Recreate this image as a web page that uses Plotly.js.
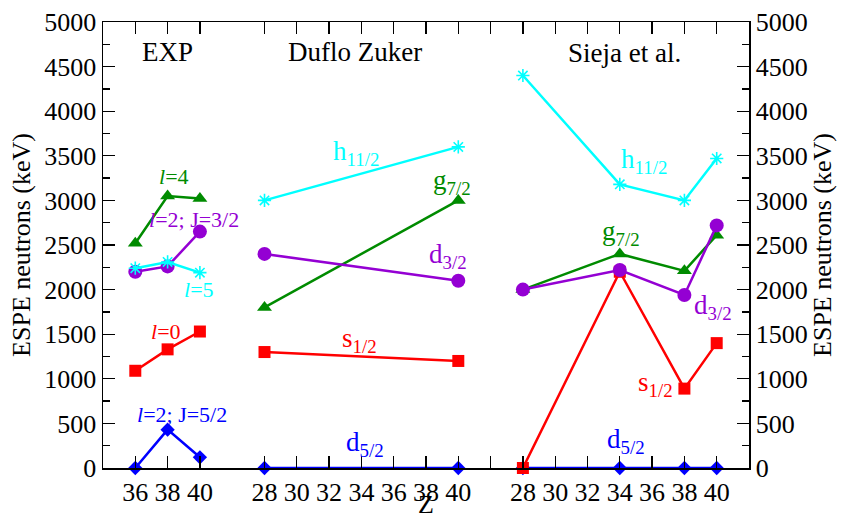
<!DOCTYPE html>
<html>
<head>
<meta charset="utf-8">
<script src="https://cdn.plot.ly/plotly-3.0.1.min.js"></script>
<style>html,body{margin:0;padding:0;background:#fff;}#chart{width:842px;height:519px;}</style>
</head>
<body>
<div id="chart"></div>
<script>
// ---------- data ----------
const panels = ["EXP", "Duflo Zuker", "Sieja et al."];

// EXP (Z values)
const expZ = [36, 38, 40];
const expL4 = [2520, 3050, 3020];        // l=4
const expL2J32 = [2200, 2260, 2650];     // l=2; J=3/2
const expL5 = [2240, 2310, 2190];        // l=5
const expL0 = [1090, 1330, 1530];        // l=0
const expL2J52 = [0, 430, 120];          // l=2; J=5/2

// Duflo Zuker
const dzZ = [28, 40];
const dzH112 = [3000, 3600];
const dzG72 = [1800, 3000];
const dzD32 = [2400, 2100];
const dzS12 = [1300, 1200];
const dzD52 = [0, 0];

// Sieja et al.
const sjZ = [28, 34, 38, 40];
const sjH112 = [4400, 3180, 3000, 3470];
const sjG72 = [2000, 2400, 2210, 2610];
const sjD32 = [2000, 2220, 1940, 2720];
const sjS12 = [0, 2200, 890, 1400];
const sjD52 = [0, 0, 0, 0];

// tick labels per panel (Z)
const expTicks = [36, 38, 40];
const dzTicks = [28, 30, 32, 34, 36, 38, 40, 42];
const sjTicks = [28, 30, 32, 34, 36, 38, 40];
const dzHiddenTick = 42;

// ---------- panel placement on one shared x axis ----------
const offset = {exp: -34, dz: -18, sj: -2};
const pos = (zs, o) => zs.map(z => z + o);

const C = {
  red: "rgb(255,0,0)", green: "rgb(0,139,0)", blue: "rgb(0,0,255)",
  cyan: "rgb(0,255,255)", violet: "rgb(148,0,211)"
};
const LW = 2.5;
function tr(x, y, color, symbol, size, yax) {
  const open = symbol.indexOf("asterisk") === 0;
  return {
    x: x, y: y, type: "scatter", mode: "lines+markers", yaxis: yax,
    line: {color: color, width: LW},
    marker: {symbol: symbol, size: size, color: color,
             line: {color: color, width: open ? 1.6 : 0}},
    hoverinfo: "skip", showlegend: false, cliponaxis: false
  };
}

const traces = [];
// order: blue, red, green, violet, cyan ; Sieja panel on the right-hand axis
const groups = [
  {o: offset.exp, ya: "y", z: expZ, d52: expL2J52, s12: expL0, g72: expL4, d32: expL2J32, h112: expL5},
  {o: offset.dz, ya: "y", z: dzZ, d52: dzD52, s12: dzS12, g72: dzG72, d32: dzD32, h112: dzH112},
  {o: offset.sj, ya: "y2", z: sjZ, d52: sjD52, s12: sjS12, g72: sjG72, d32: sjD32, h112: sjH112}
];
groups.forEach(g => traces.push(tr(pos(g.z, g.o), g.d52, C.blue, "diamond", 11, g.ya)));
groups.forEach(g => traces.push(tr(pos(g.z, g.o), g.s12, C.red, "square", 12, g.ya)));
groups.forEach(g => traces.push(tr(pos(g.z, g.o), g.g72, C.green, "triangle-up", 13, g.ya)));
groups.forEach(g => traces.push(tr(pos(g.z, g.o), g.d32, C.violet, "circle", 14, g.ya)));
groups.forEach(g => traces.push(tr(pos(g.z, g.o), g.h112, C.cyan, "asterisk-open", 11, g.ya)));

// ticks
const tickvals = [].concat(pos(expTicks, offset.exp), pos(dzTicks, offset.dz), pos(sjTicks, offset.sj));
const ticktext = [].concat(expTicks.map(String), dzTicks.map(z => z === dzHiddenTick ? "" : String(z)), sjTicks.map(String));

const FONT = "'Liberation Serif', 'Times New Roman', Times, serif";
function ann(x, y, text, color, size) {
  return {x: x, y: y, xref: "x", yref: "y", text: text, showarrow: false,
          font: {family: FONT, size: size || 27, color: color || "#000"},
          xanchor: "center", yanchor: "middle"};
}

const annotations = [
  ann(4.0, 4664, panels[0], "#000", 27),
  ann(15.6, 4664, panels[1], "#000", 27),
  ann(32.3, 4650, panels[2], "#000", 27),
  ann(4.4, 3264, "<i>l</i>=4", C.green, 22),
  ann(5.63, 2783, "<i>l</i>=2; J=3/2", C.violet, 22),
  ann(5.94, 1999, "<i>l</i>=5", C.cyan, 22),
  ann(3.9, 1528, "<i>l</i>=0", C.red, 22),
  ann(4.89, 599, "<i>l</i>=2; J=5/2", C.blue, 22),
  ann(15.67, 3531, "h<sub>11/2</sub>", C.cyan),
  ann(21.6, 3208, "g<sub>7/2</sub>", C.green),
  ann(21.36, 2380, "d<sub>3/2</sub>", C.violet),
  ann(15.9, 1439, "s<sub>1/2</sub>", C.red),
  ann(16.2, 274, "d<sub>5/2</sub>", C.blue),
  ann(33.5, 3443, "h<sub>11/2</sub>", C.cyan),
  ann(32.07, 2637, "g<sub>7/2</sub>", C.green),
  ann(37.8, 1808, "d<sub>3/2</sub>", C.violet),
  ann(34.2, 946, "s<sub>1/2</sub>", C.red),
  ann(32.4, 308, "d<sub>5/2</sub>", C.blue)
];

function yAxis(side, extra) {
  return Object.assign({
    side: side,
    range: [0, 5000], dtick: 500, tick0: 0, ticks: "inside", ticklen: 12, tickwidth: 1.3,
    tickcolor: "#000", showline: true, linecolor: "#000", linewidth: 1.5,
    showgrid: false, zeroline: false, fixedrange: true, automargin: false,
    tickfont: {family: FONT, size: 26, color: "#000"},
    minor: {ticks: "inside", ticklen: 7, dtick: 250, tickcolor: "#000", tickwidth: 1.3, showgrid: false},
    title: {text: "ESPE neutrons (keV)", font: {family: FONT, size: 26, color: "#000"}, standoff: 6}
  }, extra || {});
}

const layout = {
  width: 842, height: 519,
  margin: {l: 103, r: 93, t: 22, b: 51},
  paper_bgcolor: "#fff", plot_bgcolor: "#fff",
  showlegend: false,
  font: {family: FONT, color: "#000"},
  xaxis: {
    range: [0, 40], tickmode: "array", tickvals: tickvals, ticktext: ticktext,
    ticks: "inside", ticklen: 12, tickwidth: 1.3, tickcolor: "#000",
    showline: true, linecolor: "#000", linewidth: 1.5, mirror: "ticks",
    showgrid: false, zeroline: false, fixedrange: true, automargin: false,
    tickfont: {family: FONT, size: 26, color: "#000"},
    title: {text: "Z", font: {family: FONT, size: 26, color: "#000"}, standoff: 4}
  },
  yaxis: yAxis("left"),
  yaxis2: yAxis("right", {overlaying: "y", anchor: "x"}),
  annotations: annotations
};

Plotly.newPlot("chart", traces, layout, {staticPlot: true, displayModeBar: false});
</script>
</body>
</html>
